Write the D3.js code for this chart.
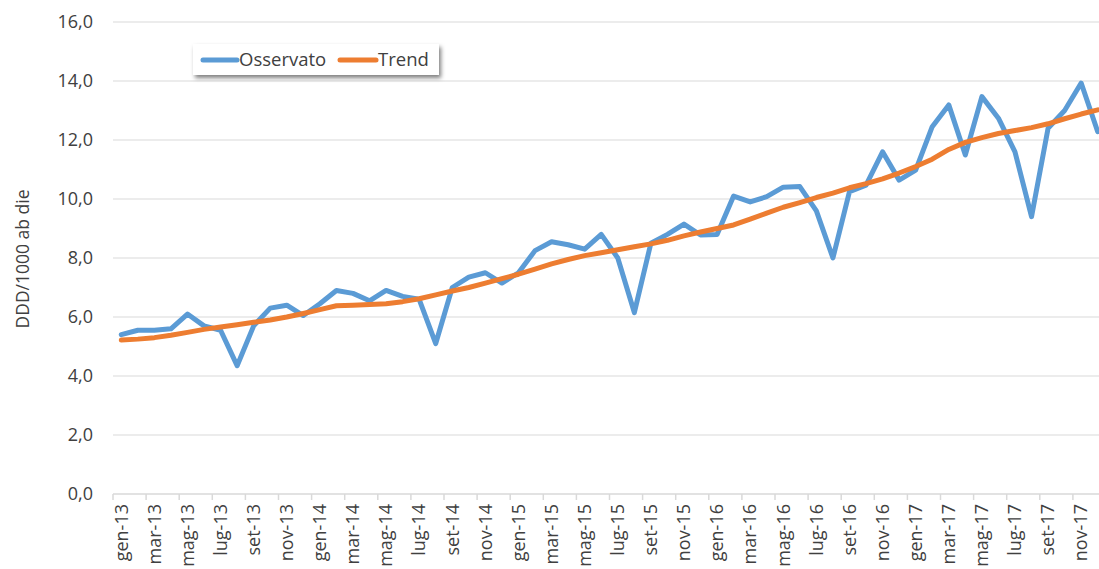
<!DOCTYPE html>
<html><head><meta charset="utf-8">
<script src="https://cdn.jsdelivr.net/npm/d3@7"></script>
<style>
html,body{margin:0;padding:0;background:#fff;overflow:hidden}
text{font-family:"Open Sans","Noto Sans",sans-serif;fill:#404040}
</style></head>
<body><svg id="c" width="1099" height="569"></svg>
<script>
const monthNames = ["gen","feb","mar","apr","mag","giu","lug","ago","set","ott","nov","dic"];
const years = ["13","14","15","16","17"];
const categories = years.flatMap(y => monthNames.map(m => m + "-" + y));
const observed = [
  5.4, 5.55, 5.55, 5.6, 6.1, 5.7, 5.55, 4.35, 5.7, 6.3, 6.4, 6.05,
  6.45, 6.9, 6.8, 6.55, 6.9, 6.7, 6.6, 5.1, 7.0, 7.35, 7.5, 7.15,
  7.5, 8.25, 8.55, 8.45, 8.3, 8.8, 8.0, 6.15, 8.5, 8.8, 9.15, 8.78,
  8.8, 10.1, 9.9, 10.08, 10.4, 10.42, 9.6, 8.0, 10.25, 10.47, 11.6, 10.64,
  10.98, 12.45, 13.19, 11.49, 13.47, 12.74, 11.6, 9.4, 12.4, 13.0, 13.93, 12.28
];
const trend = [
  5.22, 5.25, 5.3, 5.38, 5.48, 5.58, 5.66, 5.74, 5.82, 5.9, 6.0, 6.12,
  6.25, 6.38, 6.4, 6.42, 6.45, 6.52, 6.62, 6.75, 6.88, 7.0, 7.15, 7.3,
  7.45, 7.62, 7.8, 7.95, 8.08, 8.18, 8.28, 8.38, 8.48, 8.6, 8.75, 8.88,
  9.0, 9.12, 9.32, 9.52, 9.72, 9.88, 10.05, 10.2, 10.38, 10.52, 10.68, 10.88,
  11.1, 11.35, 11.68, 11.92, 12.08, 12.22, 12.32, 12.42, 12.55, 12.72, 12.88, 13.02
];
const yTicks = [0, 2, 4, 6, 8, 10, 12, 14, 16];
const seriesNames = ["Osservato", "Trend"];
const seriesColors = ["#5B9BD5", "#ED7D31"];
const yTitle = "DDD/1000 ab die";

const svg = d3.select("#c");
const L = 113, R = 1106, T = 22, B = 494;
const x = d3.scaleBand().domain(categories).range([L, R]).padding(0);
const y = d3.scaleLinear().domain([0, 16]).range([B, T]);
const fmt = v => d3.format(".1f")(v).replace(".", ",");
const FF = '"Open Sans","Noto Sans",sans-serif';

const defs = svg.append("defs");
const f = defs.append("filter").attr("id","sh").attr("x","-10%").attr("y","-30%").attr("width","130%").attr("height","180%");
f.append("feDropShadow").attr("dx",2).attr("dy",3).attr("stdDeviation",2).attr("flood-color","#000").attr("flood-opacity",0.5);

// gridlines
svg.append("g").selectAll("line").data(yTicks.filter(d => d > 0)).join("line")
  .attr("x1", L).attr("x2", R).attr("y1", d => y(d)).attr("y2", d => y(d))
  .attr("stroke", "#d9d9d9").attr("stroke-width", 1);

// y axis labels
const yAxis = d3.axisLeft(y).tickValues(yTicks).tickFormat(fmt).tickSize(0).tickPadding(0);
const gy = svg.append("g").attr("transform", `translate(${L - 20},0)`).call(yAxis);
gy.select(".domain").remove();
gy.selectAll("text").style("font-size", "18px").attr("fill", "#404040").style("font-family", FF);

// x axis
svg.append("line").attr("x1", L).attr("x2", R).attr("y1", B).attr("y2", B)
  .attr("stroke", "#d9d9d9").attr("stroke-width", 1.5);
const tickCats = categories.filter((c, i) => i % 2 === 0);
svg.append("g").selectAll("line").data(tickCats).join("line")
  .attr("x1", d => x(d)).attr("x2", d => x(d)).attr("y1", B).attr("y2", B + 6)
  .attr("stroke", "#d9d9d9").attr("stroke-width", 1.5);
const xAxis = d3.axisBottom(x).tickValues(tickCats).tickSize(0).tickPadding(0);
const gx = svg.append("g").attr("transform", `translate(0,${B})`).call(xAxis);
gx.select(".domain").remove();
gx.selectAll("text")
  .style("font-size", "18px").attr("fill", "#404040").style("font-family", FF)
  .attr("text-anchor", "end").attr("dy", "0.35em")
  .attr("transform", "translate(0,10) rotate(-90)").attr("x", 0).attr("y", 0);

// y title
svg.append("text").attr("transform", `translate(23,259) rotate(-90)`)
  .attr("text-anchor", "middle").attr("dy", "0.35em").style("font-size", "17.5px").attr("fill", "#404040").text(yTitle);

// lines
const cx = d => x(d) + x.bandwidth() / 2;
const line = d3.line().x(d => cx(d.c)).y(d => y(d.v));
[observed, trend].forEach((s, k) => {
  svg.append("path").datum(s.map((v, i) => ({c: categories[i], v})))
    .attr("d", line).attr("fill", "none").attr("stroke", seriesColors[k])
    .attr("stroke-width", 5).attr("stroke-linejoin", "round").attr("stroke-linecap", "round");
});

// legend
const lg = svg.append("g").attr("transform", "translate(193,44)");
lg.append("rect").attr("width", 246).attr("height", 31).attr("fill", "#fff").attr("filter", "url(#sh)");
const items = [{x: 10, w: 34, tx: 46}, {x: 147, w: 36, tx: 185}];
seriesNames.forEach((n, k) => {
  lg.append("line").attr("x1", items[k].x).attr("x2", items[k].x + items[k].w).attr("y1", 16).attr("y2", 16)
    .attr("stroke", seriesColors[k]).attr("stroke-width", 5).attr("stroke-linecap", "round");
  lg.append("text").attr("x", items[k].tx).attr("y", 16).attr("dy", "0.35em")
    .style("font-size", "18.5px").attr("fill", "#262626").style("font-family", FF).text(n);
});
</script></body></html>
